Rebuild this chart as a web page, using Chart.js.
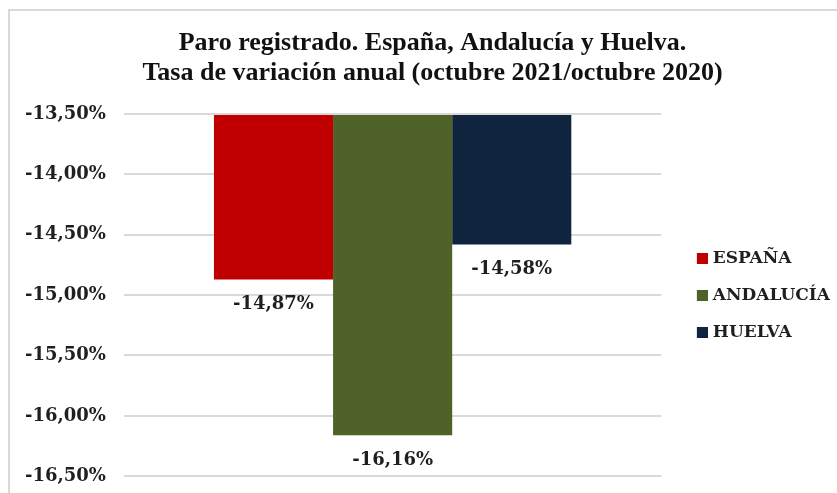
<!DOCTYPE html>
<html lang="es">
<head>
<meta charset="utf-8">
<title>Paro registrado. España, Andalucía y Huelva</title>
<script src="https://cdn.jsdelivr.net/npm/chart.js@4.4.1/dist/chart.umd.min.js"></script>
<style>
  html, body { margin: 0; padding: 0; background: #fff; overflow: hidden; }
  #marco {
    position: absolute;
    left: 8px;
    top: 9px;
    width: 860px;
    height: 500px;
    border-left: 2px solid #d9d9d9;
    border-top: 2px solid #d9d9d9;
  }
  #grafica { display: block; }
</style>
</head>
<body>
<div id="marco"><canvas id="grafica" width="860" height="494"></canvas></div>
<script>
// Datos de la gráfica (tasa de variación anual del paro registrado)
const territorios = ['ESPAÑA', 'ANDALUCÍA', 'HUELVA'];
const variaciones = [-14.87, -16.16, -14.58];
const tituloLineas = [
  'Paro registrado. España, Andalucía y Huelva.',
  'Tasa de variación anual (octubre 2021/octubre 2020)'
];
const ejeMin = -16.5;
const ejeMax = -13.5;
const ejePaso = 0.5;

// Colores de cada territorio
const colores = ['#c00000', '#4f6228', '#10243e'];

const fuenteSerif = "'DejaVu Serif', serif";
const colorTexto = '#1f1f1f';

let paroChart = null;

function formatoPct(v) {
  return v.toFixed(2).replace('.', ',') + '%';
}

// Marca cuadrada de la leyenda, con margen transparente a la izquierda
function crearMarca(color) {
  const c = document.createElement('canvas');
  c.width = 30;
  c.height = 11;
  const g = c.getContext('2d');
  g.fillStyle = color;
  g.fillRect(19, 0, 11, 11);
  return c;
}
const marcas = colores.map(crearMarca);

// Etiqueta con el valor debajo del extremo de cada barra
const etiquetasBarras = {
  id: 'etiquetasBarras',
  afterDatasetsDraw(chart) {
    const ctx = chart.ctx;
    ctx.save();
    ctx.font = `bold 18px ${fuenteSerif}`;
    ctx.fillStyle = colorTexto;
    ctx.textAlign = 'center';
    ctx.textBaseline = 'middle';
    chart.data.datasets.forEach((ds, i) => {
      const barra = chart.getDatasetMeta(i).data[0];
      if (!barra) return;
      ctx.fillText(formatoPct(ds.data[0]), barra.x, barra.y + 25);
    });
    ctx.restore();
  }
};

function crearGrafica() {
  const canvas = document.getElementById('grafica');
  if (paroChart) paroChart.destroy();

  paroChart = new Chart(canvas, {
    type: 'bar',
    data: {
      labels: [''],
      datasets: territorios.map((nombre, i) => ({
        label: nombre,
        data: [variaciones[i]],
        base: ejeMax, // las barras cuelgan desde el borde superior
        backgroundColor: colores[i],
        borderWidth: 0,
        categoryPercentage: 0.665,
        barPercentage: 1
      }))
    },
    options: {
      responsive: false,
      animation: false,
      layout: {
        padding: { left: 15, right: 30, top: 0, bottom: 0 }
      },
      plugins: {
        title: {
          display: true,
          text: tituloLineas,
          color: '#111',
          font: { family: "'Liberation Serif', serif", size: 26, weight: 'bold', lineHeight: 30 / 26 },
          padding: { top: 17, bottom: 26 }
        },
        legend: {
          position: 'right',
          fullSize: false,
          labels: {
            usePointStyle: true,
            pointStyleWidth: 23,
            padding: 20,
            color: colorTexto,
            font: { family: fuenteSerif, size: 17, weight: 'bold' },
            generateLabels: (chart) =>
              Chart.defaults.plugins.legend.labels.generateLabels(chart)
                .map((item, i) => ({ ...item, pointStyle: marcas[i] }))
          }
        },
        tooltip: { enabled: false }
      },
      scales: {
        x: { display: false },
        y: {
          min: ejeMin,
          max: ejeMax,
          border: { display: false },
          grid: { color: '#d9d9d9', lineWidth: 2, drawTicks: false },
          ticks: {
            stepSize: ejePaso,
            padding: 18,
            color: colorTexto,
            font: { family: fuenteSerif, size: 18, weight: 'bold' },
            callback: (v) => formatoPct(v)
          },
          // Chart.js reserva el relleno a ambos lados de la etiqueta; sólo queremos uno
          afterFit: (s) => { s.width -= 18; }
        }
      }
    },
    plugins: [etiquetasBarras]
  });
}

window.addEventListener('DOMContentLoaded', () => {
  crearGrafica();
});
</script>
</body>
</html>
